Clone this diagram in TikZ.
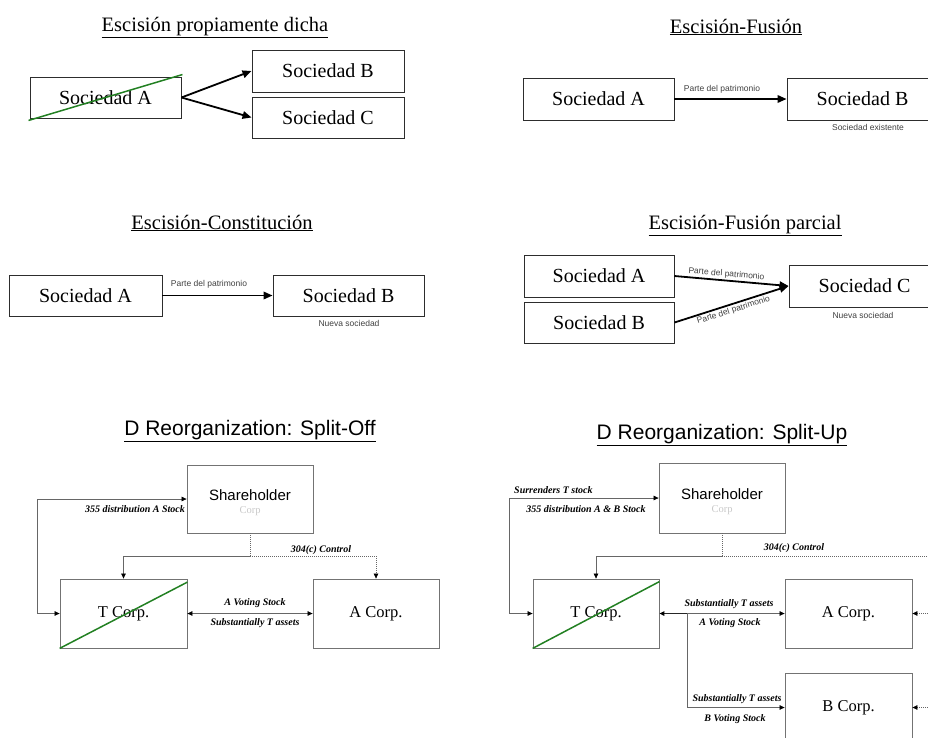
\documentclass[tikz,border=0pt]{standalone}
\usepackage{fontspec}
\setmainfont{Liberation Serif}
\newfontfamily\arialf{Liberation Sans}
\usetikzlibrary{arrows.meta,calc}

\definecolor{frame}{RGB}{45,45,45}
\definecolor{strike}{RGB}{34,128,34}
\definecolor{corpgray}{RGB}{200,200,200}

\tikzset{
  dtip/.tip={Triangle[length=5pt,width=4.5pt,color=black]},
  soc/.style={draw=frame, line width=0.9pt, inner sep=0pt,
    font=\fontsize{20}{24}\selectfont},
  ttl/.style={anchor=base, inner sep=0pt, font=\fontsize{20.5}{24}\selectfont},
  ttlD/.style={anchor=base, inner sep=0pt, font=\arialf\fontsize{21}{25}\selectfont},
  flow/.style={line width=1.8pt, -{Triangle[length=9pt,width=7.5pt]}},
  note/.style={inner sep=0pt, font=\arialf\fontsize{8.5}{10}\selectfont, text=black!75},
  corp/.style={draw=black!55, line width=0.8pt, inner sep=0pt,
    minimum width=126pt, minimum height=69pt, font=\fontsize{16.5}{19}\selectfont},
  link/.style={draw=black!60, line width=0.7pt},
  dots/.style={dash pattern=on 1pt off 1pt},
  lbl/.style={inner sep=0pt, font=\bfseries\itshape\fontsize{10}{12}\selectfont, text=black},
  strikeline/.style={draw=strike, line width=1.5pt},
  shname/.style={anchor=base, inner sep=0pt, font=\arialf\fontsize{15}{18}\selectfont},
  shsub/.style={anchor=base, inner sep=0pt, font=\fontsize{10.5}{12}\selectfont, text=corpgray},
}

\begin{document}
\begin{tikzpicture}[x=1pt,y=-1pt]
\useasboundingbox (0,0) rectangle (928,737);
\clip (0,0) rectangle (928,737);

% ---------- Escisión propiamente dicha ----------
\node[ttl] (t1) at (215,31.5) {\underline{Escisión propiamente dicha}};
\node[soc, minimum width=151pt, minimum height=41pt] (sa1) at (105.5,97.5) {Sociedad A};
\node[soc, minimum width=152pt, minimum height=42pt] (sb1) at (328,71) {Sociedad B};
\node[soc, minimum width=152pt, minimum height=41pt] (sc1) at (328,117.5) {Sociedad C};
\draw[strikeline] ($(sa1.south west)+(-1,2)$) -- ($(sa1.north east)+(1,-2)$);
\draw[flow] (sa1.east) -- (sb1.west);
\draw[flow] (sa1.east) -- (sc1.west);

% ---------- Escisión-Fusión ----------
\node[ttl] (t2) at (736,33) {\underline{Escisión-Fusión}};
\node[soc, minimum width=151pt, minimum height=42pt] (sa2) at (598.5,99) {Sociedad A};
\node[soc, minimum width=151pt, minimum height=42pt] (sb2) at (862.5,99) {Sociedad B};
\draw[flow] (sa2.east) -- (sb2.west);
\node[note] (p2) at (722,89) {Parte del patrimonio};
\node[note] (e2) at (868,127) {Sociedad existente};

% ---------- Escisión-Constitución ----------
\node[ttl] (t3) at (222,229) {\underline{Escisión-Constitución}};
\node[soc, minimum width=153pt, minimum height=41pt] (sa3) at (85.5,295.5) {Sociedad A};
\node[soc, minimum width=151pt, minimum height=41pt] (sb3) at (348.5,295.5) {Sociedad B};
\draw[flow] (sa3.east) -- (sb3.west);
\node[note] (p3) at (209,284) {Parte del patrimonio};
\node[note] (n3) at (349,323) {Nueva sociedad};

% ---------- Escisión-Fusión parcial ----------
\node[ttl] (t4) at (745,229) {\underline{Escisión-Fusión parcial}};
\node[soc, minimum width=150pt, minimum height=42pt] (sa4) at (599,276) {Sociedad A};
\node[soc, minimum width=150pt, minimum height=41pt] (sb4) at (599,322.5) {Sociedad B};
\node[soc, minimum width=151pt, minimum height=42pt] (sc4) at (864.5,286) {Sociedad C};
\draw[flow] (sa4.east) -- node[note, sloped, above=1.5pt, pos=0.45] (pa4) {Parte del patrimonio} (sc4.west);
\draw[flow] (sb4.east) -- node[note, sloped, below=1.5pt, pos=0.5] (pb4) {Parte del patrimonio} (sc4.west);
\node[note] (n4) at (863,315) {Nueva sociedad};

% ---------- D Reorganization: Split-Off ----------
\node[ttlD] (t5) at (250,435) {\underline{D Reorganization: Split-Off}};
\node[corp, minimum height=68pt] (sh5) at (250,499) {};
\node[shname] (sh5n) at ($(sh5.center)+(0,1.5)$) {Shareholder};
\node[shsub] (sh5c) at ($(sh5.center)+(0,14.5)$) {Corp};
\node[corp, minimum width=127pt] (tc5) at (123.5,613.5) {T Corp.};
\node[corp] (ac5) at (376,613.5) {A Corp.};
\draw[strikeline] (tc5.south west) -- ($(tc5.north east)+(0,3.5)$);

\draw[link, dtip-dtip] (tc5.west) -- ++(-22,0) |- (sh5.west);
\node[lbl, anchor=east] (d5) at (185,509) {355 distribution A Stock};

\coordinate (j5) at (250,556);
\draw[link, dots] (sh5.south) -- (j5);
\draw[link, -dtip] (j5) -| (tc5.north);
\draw[link, dots, -dtip] (j5) -| (ac5.north);
\node[lbl] (c5) at (321,550) {304(c) Control};

\draw[link, dtip-dtip] (tc5.east) -- (ac5.west);
\node[lbl] (v5) at (255,603) {A Voting Stock};
\node[lbl] (s5) at (255,623) {Substantially T assets};

% ---------- D Reorganization: Split-Up ----------
\node[ttlD] (t6) at (722,439) {\underline{D Reorganization: Split-Up}};
\node[corp, minimum height=70pt] (sh6) at (722,498) {};
\node[shname] (sh6n) at ($(sh6.center)+(0,1)$) {Shareholder};
\node[shsub] (sh6c) at ($(sh6.center)+(0,14)$) {Corp};
\node[corp] (tc6) at (596,613.5) {T Corp.};
\node[corp, minimum width=127pt] (ac6) at (848.5,613.5) {A Corp.};
\node[corp, minimum width=127pt] (bc6) at (848.5,707.5) {B Corp.};
\draw[strikeline] (tc6.south west) -- ($(tc6.north east)+(0,3)$);

\draw[link, dtip-dtip] (tc6.west) -- ++(-23,0) |- (sh6.west);
\node[lbl, anchor=west] (r6) at (514,490) {Surrenders T stock};
\node[lbl] (d6) at (586,509) {355 distribution A \& B Stock};

\coordinate (j6) at (722,556);
\coordinate (e6) at (940,556);
\draw[link, dots] (sh6.south) -- (j6);
\draw[link, -dtip] (j6) -| (tc6.north);
\draw[link, dots] (j6) -- (e6);
\node[lbl] (c6) at (794,548) {304(c) Control};

\coordinate (k6) at (687,613.5);
\draw[line width=1.6pt, draw=black!85, -dtip] (k6) -- (tc6.east);
\draw[link, -dtip] (k6) -- (ac6.west);
\draw[link, -dtip] (k6) |- (bc6.west);
\node[lbl] (sa6) at (729,604) {Substantially T assets};
\node[lbl] (va6) at (730,623) {A Voting Stock};
\node[lbl] (sb6) at (737,699) {Substantially T assets};
\node[lbl] (vb6) at (735,719) {B Voting Stock};

\coordinate (ra6) at (940,613.5);
\coordinate (rb6) at (940,707.5);
\draw[link, dots, -dtip] (ra6) -- (ac6.east);
\draw[link, dots, -dtip] (rb6) -- (bc6.east);
\end{tikzpicture}
\end{document}
